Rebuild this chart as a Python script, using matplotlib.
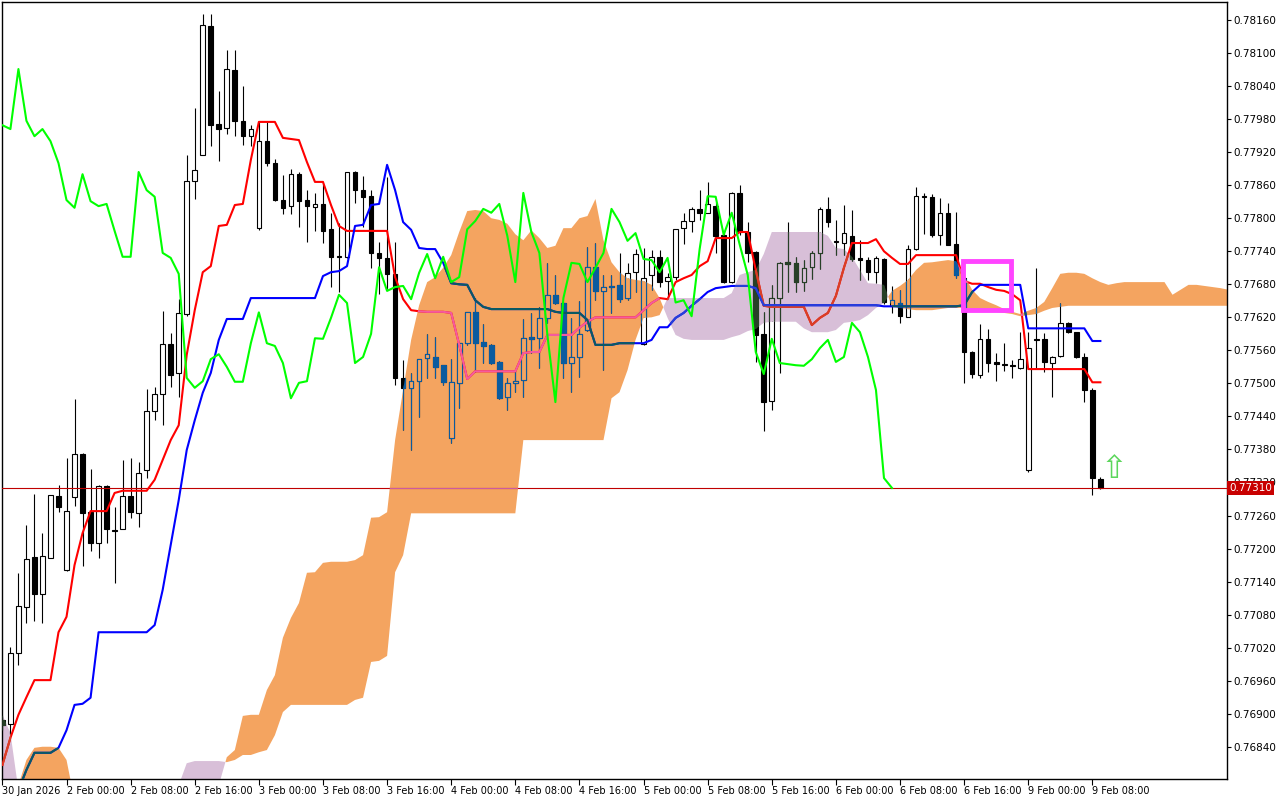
import numpy as np
import matplotlib
matplotlib.use("Agg")
import matplotlib.pyplot as plt
from matplotlib.path import Path
from matplotlib.patches import Rectangle

# H1 candles, 30 Jan 16:00 .. 9 Feb 09:00
opens = [0.76889, 0.76881, 0.77010, 0.77094, 0.77185, 0.77118, 0.77183, 0.77295, 0.77161, 0.77294,
         0.77372, 0.77266, 0.77210, 0.77314, 0.77234, 0.77236, 0.77295, 0.77265, 0.77343, 0.77450,
         0.77481, 0.77572, 0.77519, 0.77626, 0.77868, 0.77915, 0.78149, 0.77971, 0.77964, 0.78069,
         0.77977, 0.77949, 0.77782, 0.77940, 0.77900, 0.77833, 0.77822, 0.77880, 0.77833, 0.77820,
         0.77826, 0.77780, 0.77731, 0.77729, 0.77884, 0.77851, 0.77840, 0.77737, 0.77728, 0.77699,
         0.77510, 0.77492, 0.77504, 0.77546, 0.77548, 0.77533, 0.77401, 0.77501, 0.77573, 0.77629,
         0.77575, 0.77570, 0.77539, 0.77475, 0.77501, 0.77506, 0.77584, 0.77582, 0.77619, 0.77661,
         0.77646, 0.77537, 0.77548, 0.77597, 0.77711, 0.77668, 0.77675, 0.77679, 0.77655, 0.77702,
         0.77572, 0.77697, 0.77730, 0.77686, 0.77693, 0.77782, 0.77795, 0.77817, 0.77810, 0.77822,
         0.77770, 0.77684, 0.77846, 0.77775, 0.77739, 0.77590, 0.77468, 0.77655, 0.77720, 0.77719,
         0.77684, 0.77711, 0.77737, 0.77817, 0.77757, 0.77755, 0.77768, 0.77728, 0.77724, 0.77702,
         0.77726, 0.77641, 0.77646, 0.77621, 0.77744, 0.77840, 0.77839, 0.77770, 0.77810, 0.77753,
         0.77691, 0.77557, 0.77515, 0.77581, 0.77539, 0.77535, 0.77533, 0.77528, 0.77343, 0.77581,
         0.77581, 0.77537, 0.77550, 0.77610, 0.77593, 0.77548, 0.77488, 0.77326]
highs = [0.76898, 0.77021, 0.77156, 0.77243, 0.77299, 0.77228, 0.77297, 0.77315, 0.77364, 0.77472,
         0.77373, 0.77345, 0.77315, 0.77315, 0.77275, 0.77361, 0.77364, 0.77357, 0.77490, 0.77493,
         0.77631, 0.77592, 0.77653, 0.77915, 0.78000, 0.78171, 0.78171, 0.78031, 0.78106, 0.78106,
         0.78040, 0.77969, 0.77975, 0.77975, 0.77908, 0.77879, 0.77889, 0.77884, 0.77851, 0.77846,
         0.77864, 0.77810, 0.77791, 0.77884, 0.77886, 0.77877, 0.77851, 0.77757, 0.77875, 0.77757,
         0.77542, 0.77519, 0.77545, 0.77590, 0.77584, 0.77534, 0.77544, 0.77574, 0.77630, 0.77655,
         0.77608, 0.77571, 0.77540, 0.77510, 0.77523, 0.77617, 0.77628, 0.77639, 0.77719, 0.77697,
         0.77648, 0.77619, 0.77650, 0.77748, 0.77755, 0.77697, 0.77697, 0.77737, 0.77719, 0.77744,
         0.77746, 0.77742, 0.77742, 0.77701, 0.77781, 0.77810, 0.77820, 0.77851, 0.77866, 0.77830,
         0.77775, 0.77848, 0.77860, 0.77793, 0.77740, 0.77630, 0.77679, 0.77720, 0.77793, 0.77730,
         0.77724, 0.77740, 0.77820, 0.77839, 0.77797, 0.77824, 0.77815, 0.77760, 0.77729, 0.77731,
         0.77727, 0.77677, 0.77670, 0.77751, 0.77857, 0.77846, 0.77844, 0.77837, 0.77828, 0.77811,
         0.77706, 0.77558, 0.77608, 0.77599, 0.77555, 0.77573, 0.77542, 0.77593, 0.77593, 0.77710,
         0.77592, 0.77549, 0.77646, 0.77612, 0.77594, 0.77555, 0.77492, 0.77330]
lows = [0.76870, 0.76863, 0.76988, 0.77065, 0.77068, 0.77065, 0.77182, 0.77266, 0.77159, 0.77277,
        0.77168, 0.77196, 0.77183, 0.77210, 0.77137, 0.77235, 0.77256, 0.77239, 0.77328, 0.77433,
        0.77424, 0.77493, 0.77475, 0.77622, 0.77835, 0.77914, 0.77931, 0.77904, 0.77953, 0.77949,
        0.77933, 0.77931, 0.77779, 0.77895, 0.77831, 0.77808, 0.77808, 0.77784, 0.77757, 0.77777,
        0.77755, 0.77675, 0.77666, 0.77728, 0.77828, 0.77784, 0.77710, 0.77662, 0.77671, 0.77497,
        0.77415, 0.77379, 0.77439, 0.77510, 0.77510, 0.77497, 0.77392, 0.77455, 0.77570, 0.77521,
        0.77537, 0.77535, 0.77472, 0.77452, 0.77484, 0.77475, 0.77555, 0.77528, 0.77610, 0.77645,
        0.77510, 0.77484, 0.77512, 0.77596, 0.77651, 0.77524, 0.77628, 0.77648, 0.77651, 0.77666,
        0.77570, 0.77670, 0.77675, 0.77657, 0.77688, 0.77753, 0.77775, 0.77797, 0.77809, 0.77737,
        0.77682, 0.77682, 0.77770, 0.77721, 0.77539, 0.77414, 0.77452, 0.77519, 0.77666, 0.77666,
        0.77668, 0.77690, 0.77708, 0.77784, 0.77733, 0.77733, 0.77722, 0.77688, 0.77688, 0.77682,
        0.77645, 0.77628, 0.77610, 0.77620, 0.77743, 0.77771, 0.77766, 0.77751, 0.77751, 0.77691,
        0.77501, 0.77510, 0.77510, 0.77521, 0.77504, 0.77523, 0.77510, 0.77527, 0.77339, 0.77528,
        0.77521, 0.77475, 0.77548, 0.77592, 0.77547, 0.77466, 0.77297, 0.77308]
closes = [0.76880, 0.77010, 0.77096, 0.77181, 0.77117, 0.77186, 0.77297, 0.77275, 0.77268, 0.77372,
          0.77265, 0.77210, 0.77314, 0.77236, 0.77232, 0.77295, 0.77266, 0.77337, 0.77450, 0.77481,
          0.77572, 0.77515, 0.77628, 0.77868, 0.77888, 0.78151, 0.77969, 0.77962, 0.78071, 0.77977,
          0.77949, 0.77962, 0.77940, 0.77900, 0.77833, 0.77819, 0.77880, 0.77831, 0.77822, 0.77826,
          0.77777, 0.77730, 0.77730, 0.77884, 0.77851, 0.77839, 0.77737, 0.77728, 0.77699, 0.77510,
          0.77492, 0.77504, 0.77544, 0.77553, 0.77530, 0.77503, 0.77503, 0.77573, 0.77629, 0.77573,
          0.77568, 0.77537, 0.77473, 0.77501, 0.77504, 0.77582, 0.77581, 0.77619, 0.77661, 0.77646,
          0.77537, 0.77548, 0.77590, 0.77711, 0.77668, 0.77675, 0.77677, 0.77653, 0.77701, 0.77735,
          0.77691, 0.77730, 0.77684, 0.77693, 0.77780, 0.77795, 0.77817, 0.77810, 0.77826, 0.77768,
          0.77684, 0.77846, 0.77775, 0.77737, 0.77588, 0.77466, 0.77655, 0.77719, 0.77717, 0.77684,
          0.77710, 0.77737, 0.77817, 0.77793, 0.77759, 0.77773, 0.77726, 0.77724, 0.77702, 0.77728,
          0.77647, 0.77651, 0.77622, 0.77744, 0.77840, 0.77839, 0.77770, 0.77810, 0.77752, 0.77697,
          0.77557, 0.77517, 0.77581, 0.77537, 0.77535, 0.77533, 0.77532, 0.77544, 0.77564, 0.77579,
          0.77539, 0.77548, 0.77610, 0.77593, 0.77548, 0.77488, 0.77328, 0.77310]

# Ichimoku lines
tenkan = [0.76807, 0.76856, 0.76898, 0.76930, 0.76961, 0.76961, 0.76961, 0.77048, 0.77076, 0.77170,
          0.77228, 0.77268, 0.77268, 0.77268, 0.77301, 0.77305, 0.77305, 0.77305, 0.77305, 0.77325,
          0.77361, 0.77397, 0.77424, 0.77552, 0.77633, 0.77702, 0.77713, 0.77786, 0.77788, 0.77824,
          0.77826, 0.77906, 0.77975, 0.77975, 0.77975, 0.77946, 0.77944, 0.77942, 0.77902, 0.77866,
          0.77866, 0.77824, 0.77786, 0.77777, 0.77777, 0.77777, 0.77777, 0.77777, 0.77777, 0.77693,
          0.77653, 0.77633, 0.77631, 0.77630, 0.77630, 0.77630, 0.77628, 0.77570, 0.77508, 0.77522,
          0.77522, 0.77522, 0.77522, 0.77522, 0.77522, 0.77555, 0.77557, 0.77557, 0.77588, 0.77588,
          0.77588, 0.77588, 0.77601, 0.77612, 0.77620, 0.77620, 0.77620, 0.77620, 0.77620, 0.77620,
          0.77633, 0.77646, 0.77655, 0.77653, 0.77684, 0.77691, 0.77697, 0.77713, 0.77722, 0.77764,
          0.77764, 0.77764, 0.77775, 0.77775, 0.77706, 0.77641, 0.77639, 0.77639, 0.77639, 0.77639,
          0.77639, 0.77606, 0.77619, 0.77628, 0.77659, 0.77710, 0.77755, 0.77755, 0.77755, 0.77762,
          0.77740, 0.77728, 0.77717, 0.77717, 0.77733, 0.77733, 0.77733, 0.77733, 0.77733, 0.77733,
          0.77686, 0.77681, 0.77681, 0.77675, 0.77670, 0.77668, 0.77662, 0.77651, 0.77526, 0.77526,
          0.77526, 0.77526, 0.77526, 0.77526, 0.77526, 0.77526, 0.77502, 0.77502]
kijun = [np.nan, np.nan, 0.76761, 0.76798, 0.76829, 0.76829, 0.76829, 0.76838, 0.76870, 0.76916,
         0.76918, 0.76929, 0.77048, 0.77048, 0.77048, 0.77048, 0.77048, 0.77048, 0.77048, 0.77061,
         0.77125, 0.77206, 0.77288, 0.77379, 0.77433, 0.77483, 0.77519, 0.77579, 0.77617, 0.77617,
         0.77617, 0.77655, 0.77655, 0.77655, 0.77655, 0.77655, 0.77655, 0.77655, 0.77655, 0.77655,
         0.77695, 0.77702, 0.77704, 0.77713, 0.77786, 0.77788, 0.77824, 0.77826, 0.77897, 0.77851,
         0.77793, 0.77779, 0.77746, 0.77744, 0.77744, 0.77719, 0.77682, 0.77680, 0.77679, 0.77651,
         0.77639, 0.77635, 0.77635, 0.77635, 0.77635, 0.77635, 0.77635, 0.77635, 0.77635, 0.77630,
         0.77628, 0.77628, 0.77628, 0.77615, 0.77570, 0.77570, 0.77570, 0.77573, 0.77573, 0.77573,
         0.77573, 0.77579, 0.77602, 0.77602, 0.77619, 0.77628, 0.77641, 0.77653, 0.77666, 0.77673,
         0.77675, 0.77677, 0.77677, 0.77677, 0.77673, 0.77642, 0.77642, 0.77642, 0.77642, 0.77642,
         0.77642, 0.77642, 0.77642, 0.77642, 0.77642, 0.77642, 0.77642, 0.77642, 0.77642, 0.77642,
         0.77640, 0.77640, 0.77640, 0.77640, 0.77640, 0.77640, 0.77640, 0.77640, 0.77640, 0.77640,
         0.77642, 0.77666, 0.77679, 0.77679, 0.77679, 0.77679, 0.77679, 0.77679, 0.77600, 0.77600,
         0.77600, 0.77600, 0.77600, 0.77600, 0.77600, 0.77600, 0.77577, 0.77577]
# cloud spans, already shifted forward (one value per bar slot, runs past the last candle)
span_a = [0.76743, 0.76752, 0.76770, 0.76816, 0.76838, 0.76840, 0.76840, 0.76838, 0.76816, 0.76743,
          0.76707, 0.76707, 0.76707, 0.76707, 0.76707, 0.76707, 0.76707, 0.76707, 0.76707, 0.76707,
          0.76707, 0.76689, 0.76689, 0.76707, 0.76725, 0.76743, 0.76761, 0.76770, 0.76821, 0.76834,
          0.76896, 0.76898, 0.76898, 0.76943, 0.76970, 0.77038, 0.77074, 0.77101, 0.77156, 0.77157,
          0.77174, 0.77176, 0.77176, 0.77176, 0.77179, 0.77188, 0.77256, 0.77257, 0.77266, 0.77397,
          0.77488, 0.77579, 0.77642, 0.77684, 0.77693, 0.77710, 0.77733, 0.77775, 0.77813, 0.77815,
          0.77813, 0.77800, 0.77797, 0.77790, 0.77771, 0.77760, 0.77778, 0.77764, 0.77746, 0.77750,
          0.77782, 0.77782, 0.77800, 0.77804, 0.77835, 0.77760, 0.77720, 0.77702, 0.77691, 0.77688,
          0.77686, 0.77679, 0.77655, 0.77619, 0.77588, 0.77581, 0.77579, 0.77579, 0.77579, 0.77579,
          0.77579, 0.77584, 0.77588, 0.77595, 0.77599, 0.77610, 0.77612, 0.77612, 0.77612, 0.77612,
          0.77600, 0.77593, 0.77593, 0.77593, 0.77597, 0.77610, 0.77612, 0.77615, 0.77624, 0.77637,
          0.77646, 0.77668, 0.77677, 0.77688, 0.77706, 0.77719, 0.77720, 0.77722, 0.77724, 0.77722,
          0.77697, 0.77670, 0.77655, 0.77648, 0.77642, 0.77635, 0.77630, 0.77626, 0.77632, 0.77637,
          0.77648, 0.77673, 0.77699, 0.77701, 0.77701, 0.77699, 0.77691, 0.77684, 0.77679, 0.77682,
          0.77684, 0.77684, 0.77684, 0.77684, 0.77684, 0.77684, 0.77661, 0.77670, 0.77679, 0.77679,
          0.77677, 0.77675, 0.77673, 0.77670]
span_b = [0.76898, 0.76865, 0.76761, 0.76743, 0.76734, 0.76725, 0.76716, 0.76716, 0.76716, 0.76707,
          0.76689, 0.76689, 0.76689, 0.76689, 0.76689, 0.76689, 0.76689, 0.76689, 0.76689, 0.76689,
          0.76689, 0.76743, 0.76770, 0.76810, 0.76814, 0.76814, 0.76814, 0.76814, 0.76812, 0.76816,
          0.76825, 0.76825, 0.76830, 0.76834, 0.76861, 0.76903, 0.76916, 0.76916, 0.76916, 0.76916,
          0.76916, 0.76916, 0.76916, 0.76916, 0.76925, 0.76929, 0.76994, 0.76996, 0.77005, 0.77157,
          0.77188, 0.77264, 0.77264, 0.77264, 0.77264, 0.77264, 0.77264, 0.77264, 0.77264, 0.77264,
          0.77264, 0.77264, 0.77264, 0.77264, 0.77264, 0.77397, 0.77397, 0.77397, 0.77397, 0.77397,
          0.77397, 0.77397, 0.77397, 0.77397, 0.77397, 0.77397, 0.77473, 0.77484, 0.77524, 0.77579,
          0.77619, 0.77620, 0.77624, 0.77655, 0.77655, 0.77655, 0.77655, 0.77655, 0.77655, 0.77655,
          0.77655, 0.77664, 0.77697, 0.77702, 0.77706, 0.77735, 0.77775, 0.77775, 0.77775, 0.77775,
          0.77775, 0.77775, 0.77775, 0.77768, 0.77746, 0.77744, 0.77730, 0.77706, 0.77682, 0.77681,
          0.77679, 0.77639, 0.77637, 0.77635, 0.77633, 0.77633, 0.77633, 0.77635, 0.77637, 0.77637,
          0.77637, 0.77635, 0.77633, 0.77632, 0.77630, 0.77628, 0.77626, 0.77622, 0.77624, 0.77626,
          0.77632, 0.77637, 0.77639, 0.77641, 0.77641, 0.77641, 0.77641, 0.77641, 0.77641, 0.77641,
          0.77641, 0.77641, 0.77641, 0.77641, 0.77641, 0.77641, 0.77641, 0.77641, 0.77641, 0.77641,
          0.77641, 0.77641, 0.77641, 0.77641]

time_labels = ["30 Jan 2026", "2 Feb 00:00", "2 Feb 08:00", "2 Feb 16:00", "3 Feb 00:00",
               "3 Feb 08:00", "3 Feb 16:00", "4 Feb 00:00", "4 Feb 08:00", "4 Feb 16:00",
               "5 Feb 00:00", "5 Feb 08:00", "5 Feb 16:00", "6 Feb 00:00", "6 Feb 08:00",
               "6 Feb 16:00", "9 Feb 00:00", "9 Feb 08:00"]
bars_per_label = 8
chikou_shift = 26
box_bars = (119.84, 125.83)
box_prices = (0.77634, 0.77723)
signal_bar, signal_price = 138.7, 0.77343

ORANGE, THISTLE = "#F4A460", "#D8BFD8"
# colours MT4 produces where a line crosses the cloud (inverted blend)
IN_ORANGE = {"black": "#0B5B9F", "red": "#F45B9F", "blue": "#0B5B60", "price": "#CB5B9F"}
IN_PURPLE = {"black": "#274027", "red": "#D84027", "blue": "#2740D8", "price": "#E74027"}

o, h, l, c = (np.array(v) for v in (opens, highs, lows, closes))
n = len(c)
idx = np.arange(n)
last = closes[-1]

fig = plt.figure(figsize=(12.8, 8), dpi=100, facecolor="white")
ax = fig.add_axes([2 / 1280, 21 / 800, 1225 / 1280, 777 / 800])
ax.set_facecolor("white")

ci = np.arange(len(span_a))
sa, sb = np.array(span_a), np.array(span_b)
bull = ax.fill_between(ci, sa, sb, where=sa >= sb, interpolate=True, color=ORANGE, lw=0, zorder=1)
bear = ax.fill_between(ci, sa, sb, where=sa < sb, interpolate=True, color=THISTLE, lw=0, zorder=1)
clip_orange = Path.make_compound_path(*bull.get_paths())
clip_purple = Path.make_compound_path(*bear.get_paths())


def draw_candles(dark, hollow, z, clip=None):
    up = c > o
    wick = ax.vlines(idx, l, h, colors=dark, lw=0.8, zorder=z)
    bars = ax.bar(idx, np.abs(c - o), 0.58, bottom=np.minimum(o, c),
                  color=[hollow if u else dark for u in up], edgecolor=dark, lw=0.8, zorder=z + 0.05)
    if clip is not None:
        wick.set_clip_path(clip, ax.transData)
        for r in bars:
            r.set_clip_path(clip, ax.transData)


def draw_lines(cols, z, clip=None):
    arts = [ax.axhline(last, color=cols["price"], lw=0.8, zorder=z - 0.5)]
    arts += ax.plot(idx, tenkan, color=cols["red"], lw=1.5, zorder=z)
    arts += ax.plot(idx, kijun, color=cols["blue"], lw=1.5, zorder=z)
    if clip is not None:
        for a in arts:
            a.set_clip_path(clip, ax.transData)


draw_candles("black", "white", 3)
draw_candles(IN_ORANGE["black"], ORANGE, 3.3, clip_orange)
draw_candles(IN_PURPLE["black"], THISTLE, 3.3, clip_purple)
draw_lines({"price": "#C00000", "red": "#FF0000", "blue": "#0000FF"}, 4)
draw_lines(IN_ORANGE, 4.3, clip_orange)
draw_lines(IN_PURPLE, 4.3, clip_purple)

# lagging span: closes plotted 26 bars back
ax.plot(idx[:n - chikou_shift], c[chikou_shift:], color="#00FF00", lw=1.5, zorder=5)

ax.add_patch(Rectangle((box_bars[0], box_prices[0]), box_bars[1] - box_bars[0],
                       box_prices[1] - box_prices[0], fill=False, ec="#FF44FF", lw=3.5, zorder=6))
ax.text(signal_bar, signal_price, "\u21e7", color="#5CD65C", fontsize=23,
        ha="center", va="center", zorder=6)

ax.set_xlim(-0.05, 152.8)
ax.set_ylim(0.767814, 0.781928)

ax.yaxis.tick_right()
yt = np.round(np.arange(0.76840, 0.78161, 0.0006), 5)
ax.set_yticks(yt, [f"{v:.5f}" for v in yt])
ax.set_xticks(np.arange(len(time_labels)) * bars_per_label, time_labels)
for lbl in ax.get_xticklabels():
    lbl.set_ha("left")
ax.tick_params(axis="y", direction="out", length=3, width=0.8, labelsize=7.5, pad=1.5)
ax.tick_params(axis="x", direction="out", length=4, width=0.8, labelsize=7, pad=1)
for s in ax.spines.values():
    s.set_linewidth(1.0)
    s.set_color("black")

ax.text(1.0018, last, f"{last:.5f}", transform=ax.get_yaxis_transform(), color="white",
        fontsize=7.5, va="center", ha="left", zorder=10, clip_on=False,
        bbox=dict(boxstyle="square,pad=0.18", fc="#C80000", ec="none"))

fig.savefig("out.png", dpi=100, facecolor="white")
